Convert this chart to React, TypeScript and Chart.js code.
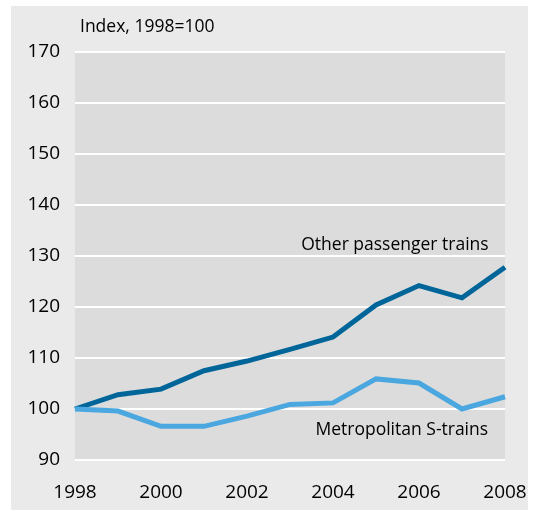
import React, { useEffect, useRef } from "react";
import { Chart, registerables } from "chart.js";

Chart.register(...registerables);

const years = ["1998", "1999", "2000", "2001", "2002", "2003", "2004", "2005", "2006", "2007", "2008"];
const otherTrains = [100, 102.8, 103.9, 107.5, 109.4, 111.7, 114.1, 120.4, 124.2, 121.8, 127.8];
const sTrains = [100, 99.6, 96.6, 96.6, 98.6, 100.9, 101.2, 105.9, 105.1, 100.0, 102.4];
const yTicks = [90, 100, 110, 120, 130, 140, 150, 160, 170];
const xTickLabels = ["1998", "", "2000", "", "2002", "", "2004", "", "2006", "", "2008"];
const yTitle = "Index, 1998=100";
const labelOther = "Other passenger trains";
const labelS = "Metropolitan S-trains";

const FONT = "'Open Sans', 'Noto Sans', sans-serif";

export default function App() {
  const ref = useRef<HTMLCanvasElement>(null);
  useEffect(() => {
    if (!ref.current) return;
    const plotBg = {
      id: "plotBg",
      beforeDraw(chart: any) {
        const { ctx, chartArea } = chart;
        ctx.save();
        ctx.fillStyle = "#dcdcdc";
        ctx.fillRect(chartArea.left, chartArea.top, chartArea.right - chartArea.left, chartArea.bottom - chartArea.top);
        ctx.restore();
      },
      afterDraw(chart: any) {
        const { ctx, scales } = chart;
        ctx.save();
        ctx.fillStyle = "#000000";
        ctx.font = `17.5px ${FONT}`;
        ctx.textBaseline = "alphabetic";
        ctx.textAlign = "left";
        ctx.fillText(yTitle, 69, 26);
        ctx.font = `17.5px ${FONT}`;
        ctx.textAlign = "center";
        const x = scales.x;
        const y = scales.y;
        ctx.fillText(labelOther, x.getPixelForValue(7.44), y.getPixelForValue(131.2));
        ctx.fillText(labelS, x.getPixelForValue(7.6), y.getPixelForValue(94.9));
        ctx.restore();
      },
    };
    const chart = new Chart(ref.current, {
      type: "line",
      data: {
        labels: years,
        datasets: [
          {
            label: labelS,
            data: sTrains,
            borderColor: "#4aa7df",
            borderWidth: 5,
            pointRadius: 0,
            tension: 0,
            borderJoinStyle: "miter",
          },
          {
            label: labelOther,
            data: otherTrains,
            borderColor: "#00669a",
            borderWidth: 5,
            pointRadius: 0,
            tension: 0,
            borderJoinStyle: "miter",
          },
        ],
      },
      options: {
        animation: false,
        responsive: false,
        maintainAspectRatio: false,
        layout: { padding: { left: 0, top: 46, right: 23, bottom: 0 } },
        plugins: { legend: { display: false }, tooltip: { enabled: false } },
        scales: {
          x: {
            type: "category",
            offset: false,
            grid: { display: false, drawTicks: false },
            border: { display: false },
            ticks: {
              autoSkip: false,
              maxRotation: 0,
              padding: 21,
              color: "#000000",
              font: { family: FONT, size: 19 },
              callback: (_v: any, i: number) => xTickLabels[i],
            },
            afterFit: (s: any) => {
              s.height = 50;
              s.paddingLeft = 0;
              s.paddingRight = 0;
            },
          },
          y: {
            min: 90,
            max: 170,
            afterBuildTicks: (s: any) => {
              s.ticks = yTicks.map((v) => ({ value: v }));
            },
            grid: { color: "#ffffff", lineWidth: 2, drawTicks: false },
            border: { display: false },
            ticks: {
              padding: 15,
              color: "#000000",
              font: { family: FONT, size: 19 },
            },
            afterFit: (s: any) => {
              s.width = 64;
              s.paddingTop = 0;
              s.paddingBottom = 0;
            },
          },
        },
      },
      plugins: [plotBg],
    });
    return () => chart.destroy();
  }, []);
  return (
    <div style={{ position: "absolute", left: 11, top: 6, width: 517, height: 504, background: "#eaeaea" }}>
      <canvas ref={ref} width={517} height={504} style={{ display: "block" }} />
    </div>
  );
}
